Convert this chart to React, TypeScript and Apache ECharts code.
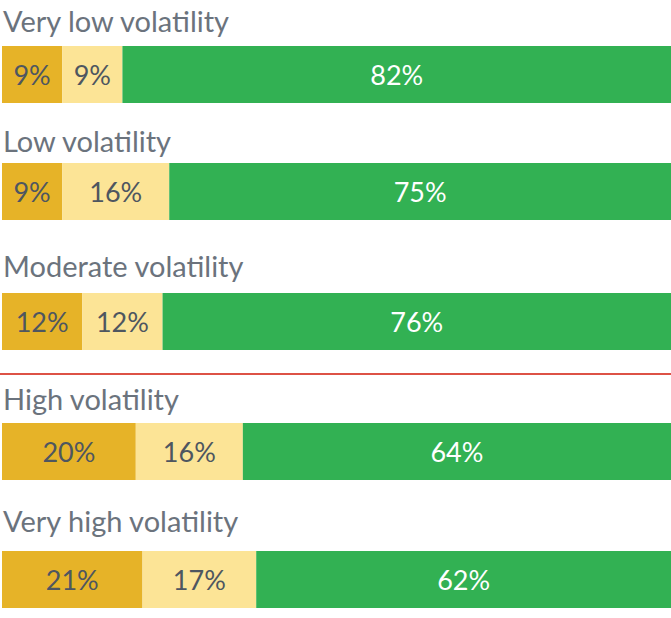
import React, { useEffect, useRef } from "react";
import * as echarts from "echarts";

const categories = [
  "Very low volatility",
  "Low volatility",
  "Moderate volatility",
  "High volatility",
  "Very high volatility",
];
const darkShare = [9, 9, 12, 20, 21];
const lightShare = [9, 16, 12, 16, 17];
const greenShare = [82, 75, 76, 64, 62];

const barTops = [46, 163, 293, 423, 551];
const barHeight = 57;
const titleCenters = [19, 139, 264, 397, 519];

const COLORS = ["#E6B328", "#FCE496", "#32B153"];
const LABEL_COLORS = ["#4E5660", "#4E5660", "#FFFFFF"];

export default function App() {
  const ref = useRef<HTMLDivElement>(null);

  useEffect(() => {
    if (!ref.current) return;
    const chart = echarts.init(ref.current, null, { renderer: "svg" });
    const shares = [darkShare, lightShare, greenShare];
    const grids = categories.map((_, i) => ({
      left: 2,
      right: 0,
      top: barTops[i],
      height: barHeight,
      containLabel: false,
    }));
    const xAxes = categories.map((_, i) => ({
      type: "value" as const,
      gridIndex: i,
      min: 0,
      max: 100,
      show: false,
    }));
    const yAxes = categories.map((c, i) => ({
      type: "category" as const,
      gridIndex: i,
      data: [c],
      show: false,
    }));
    const series: any[] = [];
    categories.forEach((c, i) => {
      shares.forEach((arr, k) => {
        series.push({
          type: "bar",
          name: ["Dark", "Light", "Green"][k],
          xAxisIndex: i,
          yAxisIndex: i,
          stack: "s" + i,
          barWidth: "100%",
          data: [arr[i]],
          itemStyle: { color: COLORS[k] },
          label: {
            show: true,
            position: "inside",
            formatter: (p: any) => p.value + "%",
            color: LABEL_COLORS[k],
            fontFamily: "Lato",
            fontSize: 27,
          },
        });
      });
    });
    const graphics: any[] = categories.map((c, i) => ({
      type: "text",
      x: 3,
      y: titleCenters[i] + 1,
      style: {
        text: c,
        fill: "#6B737D",
        fontFamily: "Lato",
        fontSize: 29,
        textVerticalAlign: "middle",
        verticalAlign: "middle",
      },
    }));
    graphics.push({
      type: "line",
      shape: { x1: 0, y1: 374, x2: 671, y2: 374 },
      style: { stroke: "#DD5246", lineWidth: 2 },
    });
    chart.setOption({
      animation: false,
      grid: grids,
      xAxis: xAxes,
      yAxis: yAxes,
      series,
      graphic: graphics,
    });
    return () => chart.dispose();
  }, []);

  return (
    <div
      ref={ref}
      style={{ position: "absolute", left: 0, top: 0, width: 671, height: 618, background: "#fff" }}
    />
  );
}
